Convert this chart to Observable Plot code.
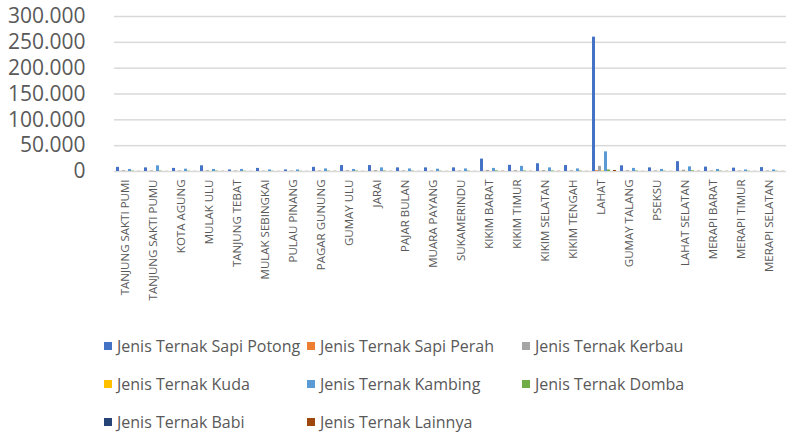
<!DOCTYPE html>
<html>
<head>
<meta charset="utf-8">
<script src="https://cdn.jsdelivr.net/npm/d3@7"></script>
<script src="https://cdn.jsdelivr.net/npm/@observablehq/plot@0.6"></script>
<style>
  html, body { margin: 0; padding: 0; background: #fff; }
  body { font-family: "Open Sans", sans-serif; width: 788px; height: 435px; overflow: hidden; }
  #chart svg { display: block; overflow: visible; }
  .legend { display: grid; grid-template-columns: 203px 215px 240px; padding-left: 104px; margin-top: 7px; }
  .legend .item { height: 38px; display: flex; align-items: center; font-size: 16px; color: #595959; white-space: nowrap; }
  .legend .sw { width: 8px; height: 8px; margin-right: 5px; flex: none; }
</style>
</head>
<body>
<div id="chart"></div>
<div class="legend" id="legend"></div>
<script>
const categories = ["TANJUNG SAKTI PUMI","TANJUNG SAKTI PUMU","KOTA AGUNG","MULAK ULU","TANJUNG TEBAT","MULAK SEBINGKAI","PULAU PINANG","PAGAR GUNUNG","GUMAY ULU","JARAI","PAJAR BULAN","MUARA PAYANG","SUKAMERINDU","KIKIM BARAT","KIKIM TIMUR","KIKIM SELATAN","KIKIM TENGAH","LAHAT","GUMAY TALANG","PSEKSU","LAHAT SELATAN","MERAPI BARAT","MERAPI TIMUR","MERAPI SELATAN"];

const seriesNames = ["Jenis Ternak Sapi Potong","Jenis Ternak Sapi Perah","Jenis Ternak Kerbau","Jenis Ternak Kuda","Jenis Ternak Kambing","Jenis Ternak Domba","Jenis Ternak Babi","Jenis Ternak Lainnya"];
const seriesColors = ["#4472C4","#ED7D31","#A5A5A5","#FFC000","#5B9BD5","#70AD47","#264478","#9E480E"];

const sapiPotong = [8000,7000,6000,11000,3000,6000,3000,8000,11500,11500,7000,7000,7000,24000,12000,15000,11500,260000,11000,7000,19000,8500,6500,7500];
const sapiPerah  = [200,150,100,200,100,100,100,150,200,200,150,100,150,300,200,200,150,1500,200,100,300,150,100,100];
const kerbau     = [1500,1200,1000,1500,1000,800,900,1200,1500,1800,1200,1000,1100,2000,1600,1800,1500,10000,1500,1200,2500,1200,1000,1100];
const kuda       = [150,100,100,150,100,100,100,100,150,150,100,100,100,200,150,150,100,800,150,100,200,100,100,100];
const kambing    = [4000,11000,4500,4000,4000,3000,3000,5000,4000,7000,5000,4500,5000,6000,10000,7000,5000,38000,6000,4000,9000,4000,3000,3000];
const domba      = [800,700,600,800,500,500,500,700,900,900,700,600,700,1200,1000,1000,800,3000,900,600,1300,700,600,600];
const babi       = [0,0,0,0,0,0,0,0,0,0,0,0,0,0,0,0,0,50,0,0,0,0,0,0];
const lainnya    = [300,200,200,300,200,200,200,300,300,300,200,200,200,500,400,400,300,2000,300,200,500,300,200,200];

const yTicks = [0,50000,100000,150000,200000,250000,300000];

const seriesValues = [sapiPotong, sapiPerah, kerbau, kuda, kambing, domba, babi, lainnya];
const data = [];
categories.forEach((c, i) => {
  seriesNames.forEach((s, j) => data.push({cat: c, series: s, value: seriesValues[j][i]}));
});

const fmt = v => d3.format(",")(v).replace(/,/g, ".");

const chart = Plot.plot({
  width: 788,
  height: 320,
  marginTop: 16,
  marginBottom: 149,
  marginLeft: 108,
  marginRight: -3,
  style: {fontFamily: "Open Sans, sans-serif", color: "#595959", background: "transparent"},
  fx: {domain: categories, padding: 0},
  x: {domain: seriesNames, axis: null, paddingInner: 0.08, paddingOuter: 0.7},
  y: {domain: [0, 300000]},
  color: {domain: seriesNames, range: seriesColors},
  marks: [
    Plot.ruleY(yTicks, {stroke: "#d9d9d9", strokeWidth: 1.5}),
    Plot.barY(data, {fx: "cat", x: "series", y: "value", fill: "series"}),
    Plot.axisY({ticks: yTicks, tickFormat: fmt, tickSize: 0, tickPadding: 29, fontSize: 21, fill: "#595959", label: null}),
    Plot.axisFx({anchor: "bottom", tickRotate: -90, tickSize: 0, tickPadding: 8, fontSize: 11.5, dx: -3, fill: "#595959", label: null, textOverflow: null, lineWidth: Infinity})
  ]
});
document.getElementById("chart").appendChild(chart);

const legend = document.getElementById("legend");
seriesNames.forEach((s, j) => {
  const item = document.createElement("div");
  item.className = "item";
  const sw = document.createElement("span");
  sw.className = "sw";
  sw.style.background = seriesColors[j];
  item.appendChild(sw);
  item.appendChild(document.createTextNode(s));
  legend.appendChild(item);
});
</script>
</body>
</html>
